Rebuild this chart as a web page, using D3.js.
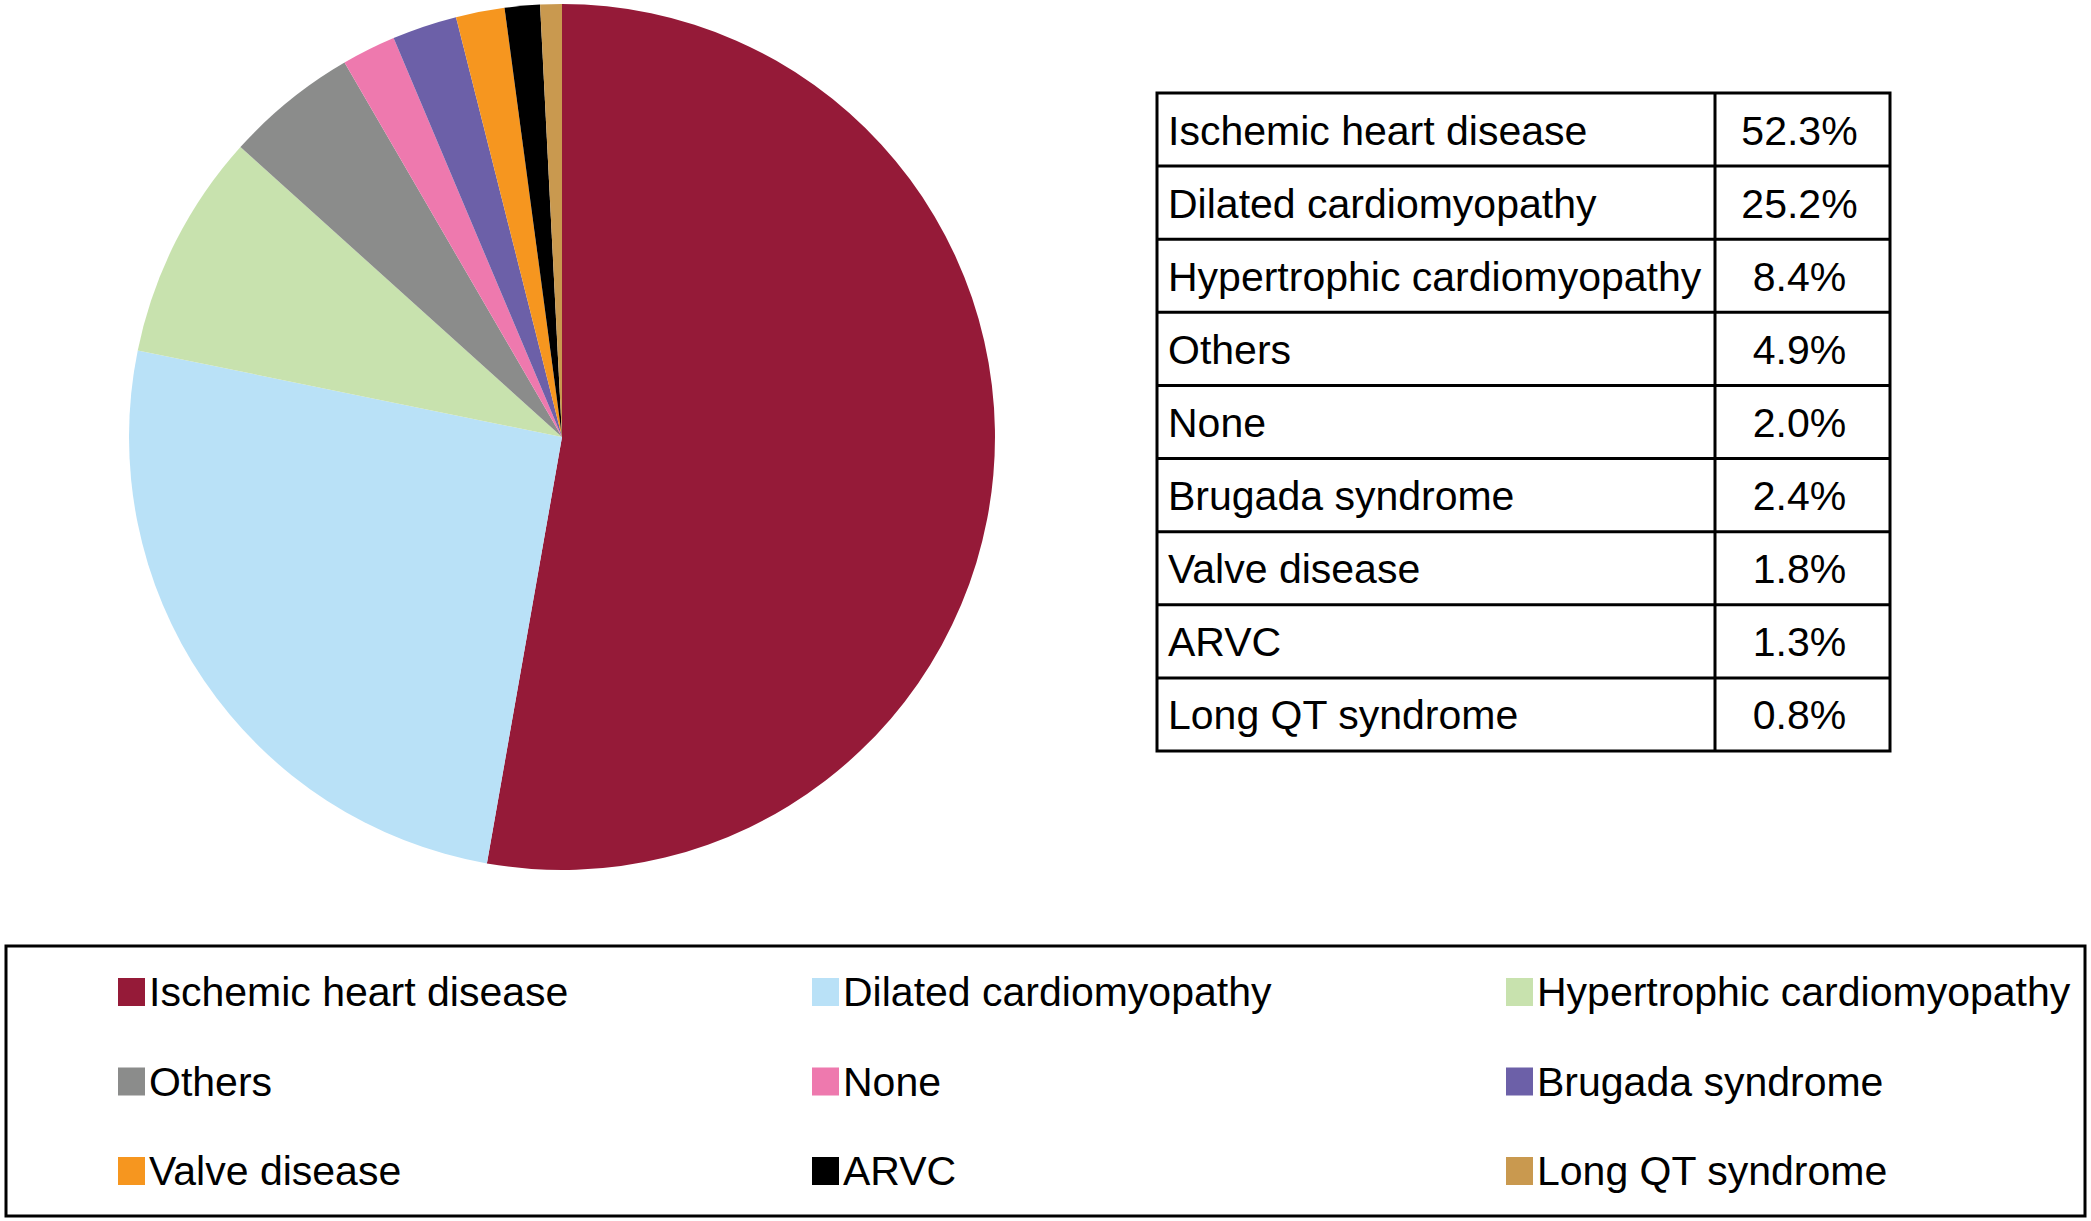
<!DOCTYPE html>
<html lang="en">
  <head>
    <meta charset="utf-8">
    <title>Pie</title>
    <script src="https://d3js.org/d3.v7.min.js"></script>
    <style>
      body { margin: 0; background: #fff; }
      text { font-family: "Liberation Sans", Arial, Helvetica, sans-serif; fill: #000; }
    </style>
  </head>
  <body>
    <script>
const categories = ['Ischemic heart disease', 'Dilated cardiomyopathy', 'Hypertrophic cardiomyopathy',
  'Others', 'None', 'Brugada syndrome', 'Valve disease', 'ARVC', 'Long QT syndrome']
const values = [52.3, 25.2, 8.4, 4.9, 2.0, 2.4, 1.8, 1.3, 0.8]
const colors = ['#951a38', '#b9e1f7', '#c8e2ae', '#8b8c8b', '#ee79ae', '#6c60a8', '#f6961f', '#000000', '#c9994f']

const width = 2091, height = 1221

const svg = d3.select('body')
  .append('svg')
  .attr('width', width)
  .attr('height', height)

// pie, starts at 12 o'clock, clockwise, keeps data order
const pie = d3.pie().sort(null).value(d => d.value)
const arc = d3.arc().innerRadius(0).outerRadius(433)
const data = categories.map((c, i) => ({ name: c, value: values[i], color: colors[i] }))

svg.append('g')
  .attr('transform', 'translate(562, 437)')
  .selectAll('path')
  .data(pie(data))
  .join('path')
  .attr('d', arc)
  .attr('fill', d => d.data.color)

// table at right
const table = { left: 1157, right: 1890, split: 1715, top: 93, bottom: 751 }
const rowScale = d3.scaleBand()
  .domain(categories)
  .range([table.top, table.bottom])

const tg = svg.append('g')
tg.selectAll('text.name')
  .data(data)
  .join('text')
  .attr('class', 'name')
  .attr('x', table.left + 11)
  .attr('y', d => rowScale(d.name) + rowScale.bandwidth() / 2 + 1)
  .attr('dominant-baseline', 'central')
  .style('font-size', '41px')
  .text(d => d.name)

tg.selectAll('text.val')
  .data(data)
  .join('text')
  .attr('class', 'val')
  .attr('x', (table.split + table.right) / 2 - 3)
  .attr('y', d => rowScale(d.name) + rowScale.bandwidth() / 2 + 1)
  .attr('dominant-baseline', 'central')
  .attr('text-anchor', 'middle')
  .style('font-size', '41px')
  .text(d => d.value.toFixed(1) + '%')

tg.selectAll('line.row')
  .data(categories.slice(1))
  .join('line')
  .attr('x1', table.left).attr('x2', table.right)
  .attr('y1', d => rowScale(d)).attr('y2', d => rowScale(d))
  .attr('stroke', '#000').attr('stroke-width', 3)

tg.append('line')
  .attr('x1', table.split).attr('x2', table.split)
  .attr('y1', table.top).attr('y2', table.bottom)
  .attr('stroke', '#000').attr('stroke-width', 3)

tg.append('rect')
  .attr('x', table.left).attr('y', table.top)
  .attr('width', table.right - table.left)
  .attr('height', table.bottom - table.top)
  .attr('fill', 'none')
  .attr('stroke', '#000').attr('stroke-width', 3)

// legend box
svg.append('rect')
  .attr('x', 6).attr('y', 946)
  .attr('width', 2079).attr('height', 270)
  .attr('fill', 'none')
  .attr('stroke', '#000').attr('stroke-width', 3)

const colX = d3.scalePoint().domain([0, 1, 2]).range([118, 1506])
const rowY = d3.scalePoint().domain([0, 1, 2]).range([992, 1171])

const items = svg.append('g')
  .selectAll('g')
  .data(data)
  .join('g')
  .attr('transform', (d, i) => `translate(${colX(i % 3)}, ${rowY(Math.floor(i / 3))})`)

items.append('rect')
  .attr('x', 0).attr('y', -14)
  .attr('width', 27).attr('height', 28)
  .attr('fill', d => d.color)

items.append('text')
  .attr('x', 31)
  .attr('y', 0)
  .attr('dominant-baseline', 'central')
  .style('font-size', '41px')
  .text(d => d.name)
    </script>
  </body>
</html>
